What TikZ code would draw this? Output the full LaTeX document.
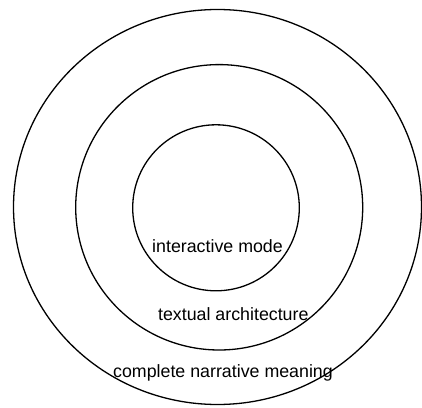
\documentclass[tikz,border=0pt]{standalone}
\usepackage{fontspec}
\setmainfont{Liberation Sans}
\usepackage{tikz}

\tikzset{
  ring/.style={draw=black, line width=1.3pt},
  layer/.style={anchor=base, inner sep=0pt, font=\fontsize{17.8}{20}\selectfont}
}

\begin{document}
\begin{tikzpicture}[x=1pt,y=1pt]
      \useasboundingbox (0,0) rectangle (422,407);
      % rings, outer to inner
      \draw[ring] (217.5,200) ellipse [x radius=204, y radius=197.5];
      \draw[ring] (219.2,199.7) ellipse [x radius=143.5, y radius=142.7];
      \draw[ring] (216,199.2) ellipse [x radius=83.3, y radius=83];
      % labels
      \node[layer] (mode) at (217.5,154.7) {interactive mode};
      \node[layer] (arch) at (233.3,86.3) {textual architecture};
      \node[layer] (meaning) at (223,29.7) {complete narrative meaning};

    \end{tikzpicture}
\end{document}
